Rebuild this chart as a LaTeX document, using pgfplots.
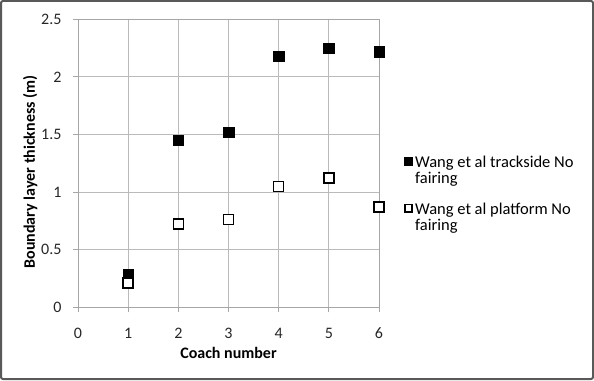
\documentclass[border=0pt]{standalone}
\usepackage{pgfplots}
\pgfplotsset{compat=1.18}
\usepackage{fontspec}
\setmainfont{Carlito}
\begin{document}
\fontsize{16}{20}\selectfont
\begin{tikzpicture}
\useasboundingbox (0pt,0pt) rectangle (594pt,380pt);
\draw[line width=2pt, color=black!65, rounded corners=2pt] (1pt,1pt) rectangle (593pt,379pt);
\begin{axis}[
  at={(78pt,72.7pt)}, anchor=south west,
  scale only axis, width=301pt, height=288pt,
  xmin=0, xmax=6, ymin=0, ymax=2.5,
  xtick={0,1,2,3,4,5,6}, ytick={0,0.5,1,1.5,2,2.5},
  yticklabels={0,0.5,1,1.5,2,2.5},
  grid=major,
  grid style={color=black!27, line width=0.8pt},
  axis line style={color=black!35, line width=0.8pt},
  tick style={color=black!35, line width=0.8pt},
  tick align=outside, major tick length=5pt,
  xtick pos=bottom, ytick pos=left,
  /pgf/number format/assume math mode=true,
  ticklabel style={font=\fontsize{16}{20}\selectfont, text=black!85},
  yticklabel style={xshift=-6pt},
  xticklabel style={yshift=-10pt},
  xlabel={\bfseries Coach number},
  ylabel={\bfseries Boundary layer thickness (m)},
  xlabel style={font=\fontsize{16}{20}\selectfont, at={(axis description cs:0.5,-0.159)}, anchor=center},
  ylabel style={font=\fontsize{16}{20}\selectfont, at={(axis description cs:-0.159,0.47)}, anchor=center},
  legend style={draw=none, fill=none, at={(axis description cs:1.075,0.393)}, anchor=west,
    font=\fontsize{16.5}{16}\selectfont,
    nodes={inner sep=0pt},
    row sep=2pt},
  legend cell align=left,
  legend image code/.code={\draw[#1, mark size=3.7pt, line width=0.6pt] plot coordinates {(0cm,1.5pt)};},
]
\addplot[only marks, mark=square*, mark size=5.3pt, mark options={fill=black, draw=black}]
  coordinates {(1,0.289) (2,1.45) (3,1.52) (4,2.18) (5,2.25) (6,2.22)};
\addlegendentry{\hspace{3pt}\strut Wang et al trackside No}
\addlegendimage{empty legend}
\addlegendentry{\hspace{3pt}\strut fairing}
\addlegendimage{empty legend}
\addlegendentry{\rule{0pt}{11pt}}
\addplot[only marks, mark=square*, mark size=5pt, mark options={fill=white, draw=black, line width=1.6pt}]
  coordinates {(1,0.213) (2,0.725) (3,0.763) (4,1.05) (5,1.12) (6,0.873)};
\addlegendentry{\hspace{3pt}\strut Wang et al platform No}
\addlegendimage{empty legend}
\addlegendentry{\hspace{3pt}\strut fairing}
\end{axis}
\end{tikzpicture}
\end{document}
